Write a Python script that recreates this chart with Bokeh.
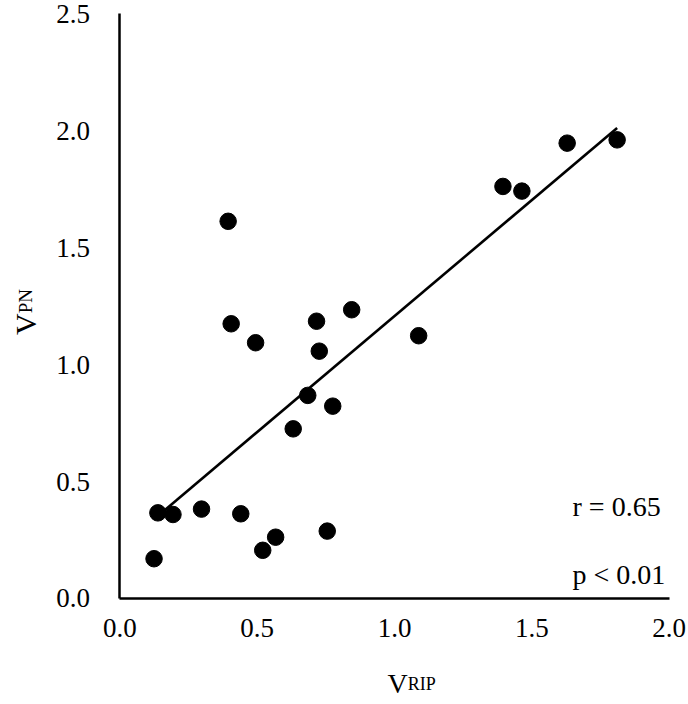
import numpy as np
from bokeh.plotting import figure
from bokeh.models import Range1d, FixedTicker, Label
from bokeh.embed import file_html
from bokeh.resources import INLINE

# ---- data ----
v_rip = [0.124, 0.138, 0.193, 0.297, 0.440, 0.520, 0.567, 0.755,
         0.394, 0.405, 0.494, 0.716, 0.844, 0.726, 0.684, 0.775,
         0.631, 1.088, 1.395, 1.464, 1.629, 1.811]
v_pn = [0.170, 0.366, 0.359, 0.382, 0.362, 0.206, 0.262, 0.288,
        1.612, 1.174, 1.093, 1.185, 1.234, 1.057, 0.868, 0.822,
        0.725, 1.123, 1.761, 1.741, 1.946, 1.960]
x_ticks = [0.0, 0.5, 1.0, 1.5, 2.0]
x_tick_labels = ["0.0", "0.5", "1.0", "1.5", "2.0"]
y_ticks = [0.0, 0.5, 1.0, 1.5, 2.0, 2.5]
y_tick_labels = ["0.0", "0.5", "1.0", "1.5", "2.0", "2.5"]
stat_r = "r = 0.65"
stat_p = "p < 0.01"
x_title = ("V", "RIP")
y_title = ("V", "PN")

FONT = "Liberation Serif"

# frame fills the canvas; axes are pinned at 0 and bounded to the data span
p = figure(width=688, height=704, output_backend="svg", toolbar_location=None,
           x_range=Range1d(-0.4353, 2.0710), y_range=Range1d(-0.4530, 2.5556),
           min_border=0)
p.outline_line_color = None
p.xgrid.visible = False
p.ygrid.visible = False
p.background_fill_color = "white"
p.border_fill_color = "white"

for ax, ticks, labels in ((p.xaxis[0], x_ticks, x_tick_labels),
                          (p.yaxis[0], y_ticks, y_tick_labels)):
    ax.fixed_location = 0
    ax.bounds = (ticks[0], ticks[-1])
    ax.ticker = FixedTicker(ticks=ticks)
    ax.major_label_overrides = {t: l for t, l in zip(ticks, labels)}
    ax.major_tick_out = 0
    ax.major_tick_in = 0
    ax.minor_tick_out = 0
    ax.minor_tick_in = 0
    ax.axis_line_color = "black"
    ax.axis_line_width = 2.5
    ax.major_label_text_font = FONT
    ax.major_label_text_font_size = "27px"
    ax.major_label_text_color = "black"
p.xaxis.major_label_standoff = 21
p.yaxis.major_label_standoff = 30

# regression line over the data range
slope, intercept = np.polyfit(v_rip, v_pn, 1)
xs = np.array([min(v_rip), max(v_rip)])
p.line(xs, slope * xs + intercept, line_color="black", line_width=2.6)

p.scatter(v_rip, v_pn, size=16.5, fill_color="black", line_color="black")

# statistics text
for txt, yy in ((stat_r, 0.393), (stat_p, 0.1026)):
    p.add_layout(Label(x=1.6485, y=yy, text=txt, text_font=FONT,
                       text_font_size="28px", text_color="black",
                       text_align="left", text_baseline="alphabetic"))

# x axis title  V_RIP
p.add_layout(Label(x=0.9745, y=-0.365, text=x_title[0], text_font=FONT,
                   text_font_size="28px", text_color="black",
                   text_align="left", text_baseline="alphabetic"))
p.add_layout(Label(x=1.0479, y=-0.365, text=x_title[1], text_font=FONT,
                   text_font_size="18px", text_color="black",
                   text_align="left", text_baseline="alphabetic"))

# y axis title  V_PN (rotated)
p.add_layout(Label(x=-0.3443, y=1.1261, text=y_title[0], text_font=FONT,
                   text_font_size="30px", text_color="black", angle=np.pi / 2,
                   text_align="left", text_baseline="alphabetic"))
p.add_layout(Label(x=-0.3443, y=1.2188, text=y_title[1], text_font=FONT,
                   text_font_size="19px", text_color="black", angle=np.pi / 2,
                   text_align="left", text_baseline="alphabetic"))

open("out.html", "w").write(file_html(p, INLINE))
